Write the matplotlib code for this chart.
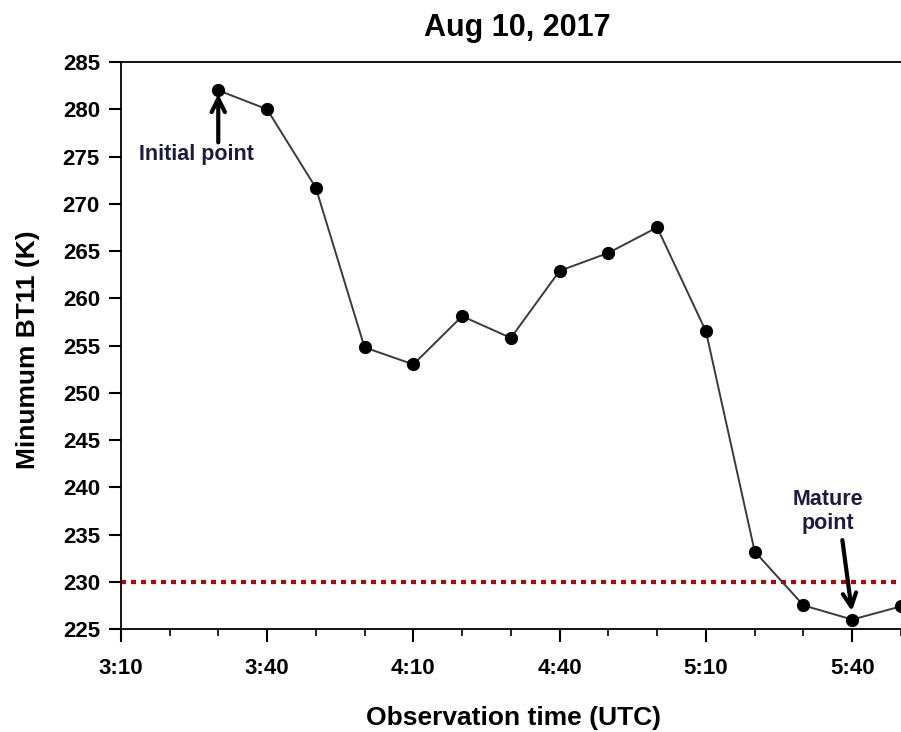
import matplotlib.pyplot as plt

plt.rcParams['font.family'] = ['Liberation Sans', 'DejaVu Sans']

times = ["3:30", "3:40", "3:50", "4:00", "4:10", "4:20", "4:30", "4:40",
         "4:50", "5:00", "5:10", "5:20", "5:30", "5:40", "5:50"]
bt11 = [282.0, 280.0, 271.7, 254.8, 253.0, 258.1, 255.8, 262.9,
        264.8, 267.5, 256.5, 233.2, 227.5, 226.0, 227.4]
tick_labels = ["3:10", "3:40", "4:10", "4:40", "5:10", "5:40"]
threshold = 230


def to_min(s):
    h, m = s.split(":")
    return int(h) * 60 + int(m)


x = [to_min(t) for t in times]
major = [to_min(t) for t in tick_labels]
minor = list(range(major[0], major[-1] + 11, 10))

fig = plt.figure(figsize=(9.01, 7.32), dpi=100)
ax = fig.add_axes([0.134, 0.1407, 0.866, 0.7746])

ax.plot(x, bt11, color='#3a3a3a', lw=1.4, marker='o', ms=8.5,
        mfc='black', mec='black', zorder=3)
ax.axhline(threshold, color='#c00000', ls=(0, (1.2, 1.2)), lw=3, zorder=2)

ax.set_xlim(major[0], to_min("5:48") + 0.3)
ax.set_ylim(225, 285)
ax.set_xticks(major)
ax.set_xticklabels(tick_labels)
ax.set_xticks(minor, minor=True)
ax.set_yticks(range(225, 286, 5))

ax.spines['right'].set_visible(False)
for s in ['left', 'bottom', 'top']:
    ax.spines[s].set_linewidth(1.3)
ax.tick_params(axis='both', which='major', direction='out', length=9,
               width=1.5, labelsize=16, pad=6)
ax.tick_params(axis='x', which='minor', direction='out', length=5, width=1.2)
ax.tick_params(axis='x', pad=12)
for lab in ax.get_xticklabels() + ax.get_yticklabels():
    lab.set_fontweight('bold')

ax.set_xlabel("Observation time (UTC)", fontsize=19, fontweight='bold')
ax.set_ylabel("Minumum BT11 (K)", fontsize=19, fontweight='bold')
ax.xaxis.set_label_coords(0.504, -0.135)
ax.yaxis.set_label_coords(-0.104, 0.492)
fig.text(0.574, 0.962, "Aug 10, 2017", ha='center', va='center',
         fontsize=22, fontweight='bold')

ax.annotate("", xy=(x[0], 281.9), xytext=(x[0], 276.2),
            arrowprops=dict(arrowstyle='->', lw=3, color='black',
                            mutation_scale=24))
ax.text(x[0] - 4.5, 275.2, "Initial point", ha='center', va='center',
        fontsize=15.5, fontweight='bold', color='#1c1c40')

ax.annotate("", xy=(x[13], 226.6), xytext=(x[13] - 2.1, 234.7),
            arrowprops=dict(arrowstyle='->', lw=3, color='black',
                            mutation_scale=24))
ax.text(x[13] - 5, 237.4, "Mature\npoint", ha='center', va='center',
        fontsize=15.5, fontweight='bold', color='#1c1c40', linespacing=1.2)

fig.savefig("out.png", dpi=100)
